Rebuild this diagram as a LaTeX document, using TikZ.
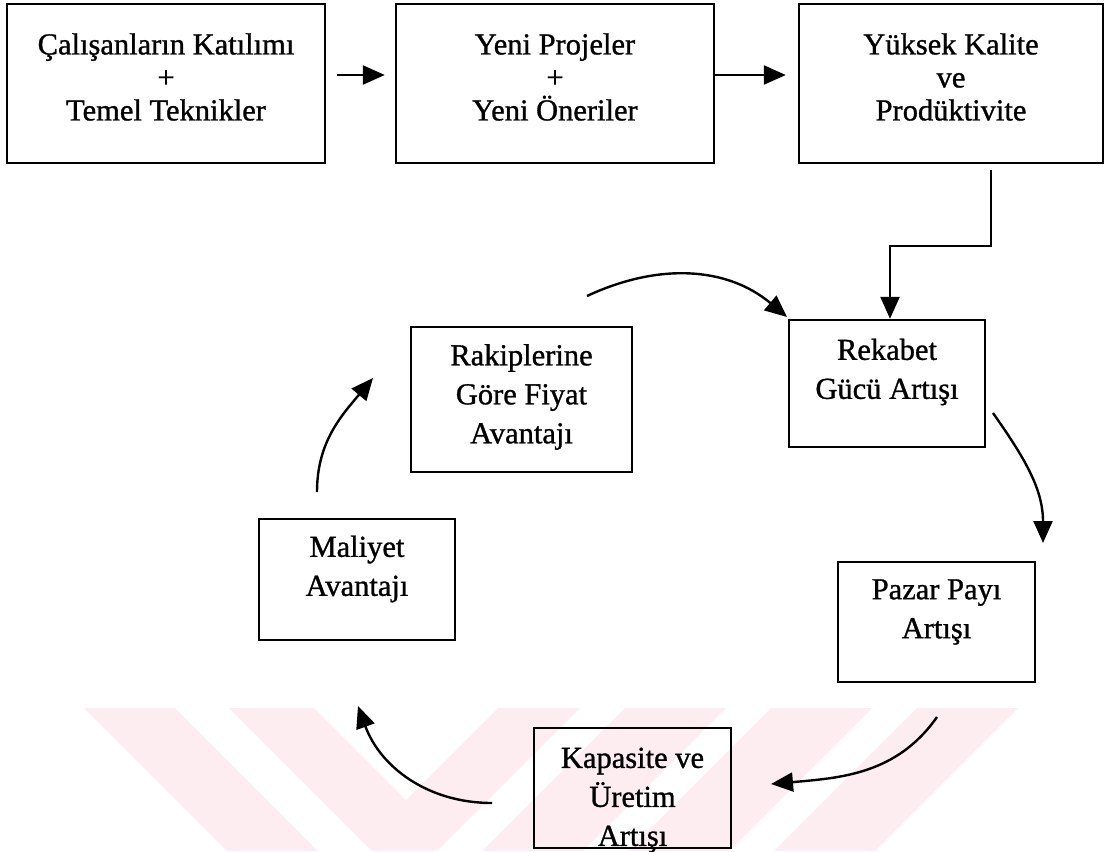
\documentclass[tikz,border=0pt]{standalone}
\usepackage{fontspec}
\setmainfont{Liberation Serif}
\newfontfamily\boxfont{Liberation Serif}[FakeBold=1.0]
\usetikzlibrary{arrows.meta}

\definecolor{wmpink}{RGB}{253,236,240}

\tikzset{
  frame/.style={draw=black, line width=2.4pt, rectangle, inner sep=0pt},
  lbl/.style={align=center, inner sep=0pt, font=\boxfont\fontsize{30.5}{39}\selectfont},
  toplbl/.style={align=center, inner sep=0pt, font=\boxfont\fontsize{30.5}{33}\selectfont},
  arr/.style={draw=black, line width=2.4pt, -{Triangle[length=22pt,width=19pt]}},
  wm/.style={fill=wmpink, draw=none}
}

\begin{document}
\begin{tikzpicture}[x=1pt,y=1pt]
\useasboundingbox (0,0) rectangle (1113,-851);
\fill[white] (0,0) rectangle (1113,-851);

% faint stripes of the background band
\fill[wm] (84,-708) -- (175,-708) -- (318,-851) -- (227,-851) -- cycle;
\fill[wm] (229,-708) -- (314,-708) -- (406,-800) -- (498,-708) -- (580,-708)
          -- (437,-851) -- (372,-851) -- cycle;
\foreach \l in {625,771,917}{
  \fill[wm] (\l,-708) -- (\l+101,-708) -- (\l-42,-851) -- (\l-143,-851) -- cycle;
}

% top row
\node[frame, minimum width=318pt, minimum height=159pt] (b1) at (166,-83.5) {};
\node[toplbl] (b1t) at (166,-77) {Çalışanların Katılımı\\+\\Temel Teknikler};
\node[frame, minimum width=318pt, minimum height=159pt] (b2) at (555,-83.5) {};
\node[toplbl] (b2t) at (555,-77) {Yeni Projeler\\+\\Yeni Öneriler};
\node[frame, minimum width=304pt, minimum height=159pt] (b3) at (951,-83.5) {};
\node[toplbl] (b3t) at (951,-77) {Yüksek Kalite\\ve\\Prodüktivite};

% cycle boxes
\node[frame, minimum width=196pt, minimum height=127pt] (rek) at (887,-383.5) {};
\node[lbl] (rekt) at (887,-372) {Rekabet\\Gücü Artışı};
\node[frame, minimum width=221pt, minimum height=145pt] (rak) at (521.5,-399.5) {};
\node[lbl] (rakt) at (521.5,-397) {Rakiplerine\\Göre Fiyat\\Avantajı};
\node[frame, minimum width=196pt, minimum height=121pt] (mal) at (357,-579.5) {};
\node[lbl] (malt) at (357,-569) {Maliyet\\Avantajı};
\node[frame, minimum width=197pt, minimum height=120pt] (paz) at (936.5,-622) {};
\node[lbl] (pazt) at (936.5,-612) {Pazar Payı\\Artışı};
\node[frame, minimum width=197pt, minimum height=120pt] (kap) at (632.5,-788) {};
\node[lbl] (kapt) at (632.5,-800) {Kapasite ve\\Üretim\\Artışı};

% straight connectors
\draw[arr] ([shift={(11pt,8.5pt)}]b1.east) -- ([shift={(-10pt,8.5pt)}]b2.west);
\draw[arr] ([yshift=8.5pt]b2.east) -- ([shift={(-12pt,8.5pt)}]b3.west);
\coordinate (elb) at (991,-170);
\draw[arr] (elb) -- (991,-246) -| ([xshift=3pt]rek.north);

% curved connectors of the cycle
\coordinate (c1s) at (587,-296);
\coordinate (c1e) at (787,-317);
\draw[arr] (c1s) to[out=25,in=140] (c1e);
\coordinate (c2s) at (993,-413);
\coordinate (c2e) at (1043,-543);
\draw[arr] (c2s) to[out=-55,in=90] (c2e);
\coordinate (c3s) at (937,-717);
\coordinate (c3e) at (771,-784);
\draw[arr] (c3s) to[out=235,in=5] (c3e);
\coordinate (c4s) at (492,-803);
\coordinate (c4e) at (358,-706);
\draw[arr] (c4s) to[out=180,in=-70] (c4e);
\coordinate (c5s) at (317,-492);
\coordinate (c5e) at (373,-378);
\draw[arr] (c5s) to[out=90,in=230] (c5e);
\end{tikzpicture}
\end{document}
